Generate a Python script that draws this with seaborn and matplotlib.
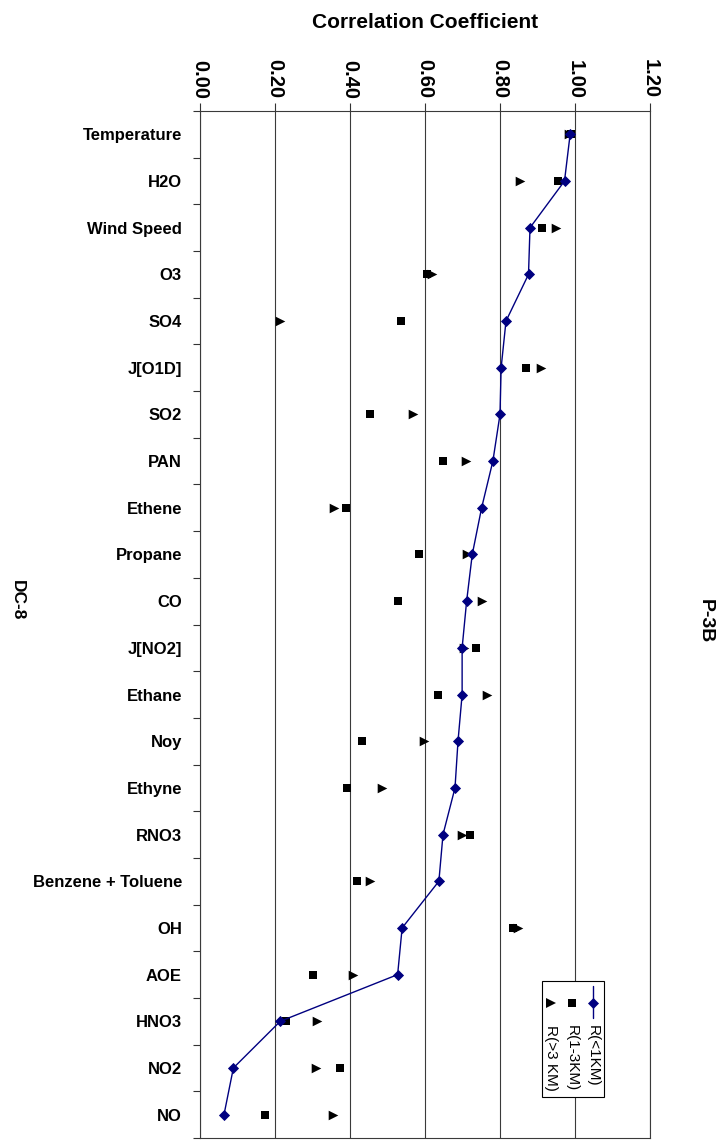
import matplotlib
matplotlib.use("Agg")
import matplotlib.pyplot as plt
import numpy as np
import pandas as pd
import seaborn as sns
from matplotlib.patches import Rectangle
from matplotlib.lines import Line2D

# Correlation coefficients by species and altitude band
species = ["Temperature", "H2O", "Wind Speed", "O3", "SO4", "J[O1D]", "SO2", "PAN",
           "Ethene", "Propane", "CO", "J[NO2]", "Ethane", "Noy", "Ethyne", "RNO3",
           "Benzene + Toluene", "OH", "AOE", "HNO3", "NO2", "NO"]
r_low = [0.987, 0.972, 0.880, 0.876, 0.816, 0.803, 0.800, 0.781, 0.751, 0.726, 0.711,
         0.699, 0.699, 0.688, 0.680, 0.648, 0.637, 0.539, 0.527, 0.214, 0.089, 0.064]
r_mid = [0.990, 0.954, 0.913, 0.606, 0.535, 0.870, 0.453, 0.649, 0.390, 0.584, 0.527,
         0.735, 0.635, 0.433, 0.392, 0.719, 0.418, 0.834, 0.300, 0.229, 0.374, 0.172]
r_high = [0.985, 0.854, 0.950, 0.618, 0.212, 0.910, 0.567, 0.710, 0.358, 0.711, 0.752,
          0.705, 0.766, 0.597, 0.485, 0.698, 0.453, 0.847, 0.409, 0.312, 0.310, 0.355]
series_names = ["R(<1KM)", "R(1-3KM)", "R(>3 KM)"]
x_ticks = [0.0, 0.2, 0.4, 0.6, 0.8, 1.0, 1.2]

df = pd.DataFrame({"species": species, "low": r_low, "mid": r_mid, "high": r_high})

sns.set_theme(style="white")
plt.rcParams["font.family"] = ["Liberation Sans", "DejaVu Sans"]
plt.rcParams["text.color"] = "black"
plt.rcParams["xtick.color"] = "black"
plt.rcParams["ytick.color"] = "black"

NAVY = "#000080"
fig = plt.figure(figsize=(7.27, 11.41), dpi=100)
ax = fig.add_axes([200 / 727, 3 / 1141, 450 / 727, 1027 / 1141])

sns.scatterplot(data=df, x="mid", y="species", marker="s", color="black", s=34,
                linewidth=0, ax=ax, zorder=3)
sns.scatterplot(data=df, x="high", y="species", marker=">", color="black", s=48,
                linewidth=0, ax=ax, zorder=3)
sns.lineplot(data=df, x="low", y="species", orient="y", sort=False, color=NAVY,
             lw=1.0, marker="D", markersize=5.5, markeredgecolor=NAVY,
             markeredgewidth=0.6, ax=ax, zorder=4)

n = len(species)
ax.set_xlim(0, 1.2)
ax.set_ylim(n - 0.5, -0.5)
ax.set_xlabel("")
ax.set_ylabel("")

# value axis along the top, labels turned
ax.xaxis.tick_top()
ax.set_xticks(x_ticks)
ax.set_xticklabels([f"{v:.2f}" for v in x_ticks], rotation=-90, fontsize=14.5,
                   fontweight="bold", va="bottom", ha="center")
ax.tick_params(axis="x", which="major", direction="out", length=6, width=0.8,
               color="#333333", pad=3, top=True, bottom=False)

# category axis: labels at band centres, ticks at band edges
ax.set_yticks(np.arange(n))
ax.set_yticklabels(species, fontsize=12, fontweight="bold")
ax.tick_params(axis="y", which="major", length=0, pad=13, left=True)
ax.set_yticks(np.arange(n + 1) - 0.5, minor=True)
ax.tick_params(axis="y", which="minor", direction="out", length=5, width=0.8,
               color="#333333", left=True)

ax.grid(axis="x", color="#3a3a3a", lw=0.8, zorder=0)
ax.grid(axis="y", visible=False)
for sp in ax.spines.values():
    sp.set_color("#3a3a3a")
    sp.set_linewidth(0.8)

fig.text(425 / 727, 1 - 22 / 1141, "Correlation Coefficient", fontsize=15,
         fontweight="bold", ha="center", va="center")
fig.text(17 / 727, 1 - 600 / 1141, "DC-8", fontsize=12.5, fontweight="bold",
         rotation=-90, ha="center", va="center")
fig.text(705 / 727, 1 - 621 / 1141, "P-3B", fontsize=14, fontweight="bold",
         rotation=-90, ha="center", va="center")

# legend box with turned entries
def fx(px):
    return (px - 200) / 450

def fy(py):
    return 1 - (py - 111) / 1027

ax.add_patch(Rectangle((fx(541.7), fy(1096.7)), fx(604) - fx(541.7),
                       fy(981) - fy(1096.7), transform=ax.transAxes,
                       facecolor="white", edgecolor="black", lw=0.8, zorder=6,
                       clip_on=False))
cols = [592.7, 571.7, 550.7]
ax.add_line(Line2D([fx(cols[0])] * 2, [fy(986), fy(1018)], transform=ax.transAxes,
                   color=NAVY, lw=1.0, zorder=7, clip_on=False))
styles = [("D", NAVY, 5.5), ("s", "black", 5.8), (">", "black", 6.9)]
for c, (m, col, ms), name in zip(cols, styles, series_names):
    ax.add_line(Line2D([fx(c)], [fy(1002.7)], transform=ax.transAxes, marker=m,
                       color=col, markersize=ms, markeredgewidth=0.5 if m == "D" else 0,
                       markeredgecolor=col, lw=0, zorder=8, clip_on=False))
    ax.text(fx(c), fy(1025), name, transform=ax.transAxes, rotation=-90,
            fontsize=11, ha="center", va="top", zorder=8)

fig.savefig("out.png", dpi=100)
